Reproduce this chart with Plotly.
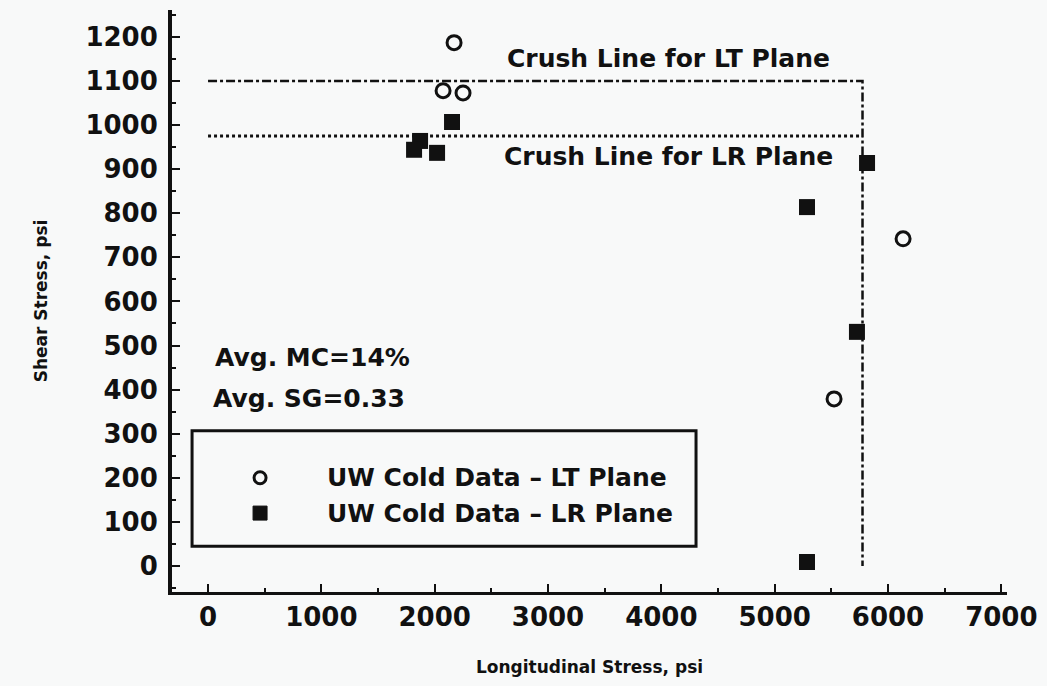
import plotly.graph_objects as go

# ---- data ----
lt_x = [2171, 2074, 2250, 6133, 5524]          # UW Cold Data - LT Plane
lt_y = [1187, 1078, 1073, 742, 379]
lr_x = [2153, 1871, 1818, 2021, 5815, 5285, 5726, 5285]   # UW Cold Data - LR Plane
lr_y = [1007, 964, 944, 937, 914, 814, 531, 9]

crush_lt_x = [0, 5775, 5775]
crush_lt_y = [1100, 1100, 0]
crush_lr_x = [0, 5775]
crush_lr_y = [975, 975]

x_ticks = [0, 1000, 2000, 3000, 4000, 5000, 6000, 7000]
y_ticks = list(range(0, 1300, 100))

FONT = "DejaVu Sans"
INK = "#111111"

fig = go.Figure()
fig.add_trace(go.Scatter(x=crush_lt_x, y=crush_lt_y, mode="lines",
                         line=dict(color=INK, width=2.5, dash="dashdot"),
                         showlegend=False, hoverinfo="skip"))
fig.add_trace(go.Scatter(x=crush_lr_x, y=crush_lr_y, mode="lines",
                         line=dict(color=INK, width=3, dash="dot"),
                         showlegend=False, hoverinfo="skip"))
fig.add_trace(go.Scatter(x=lt_x, y=lt_y, mode="markers", name="UW Cold Data – LT Plane",
                         marker=dict(symbol="circle-open", size=14, color=INK,
                                     line=dict(width=3, color=INK)),
                         showlegend=False))
fig.add_trace(go.Scatter(x=lr_x, y=lr_y, mode="markers", name="UW Cold Data – LR Plane",
                         marker=dict(symbol="square", size=16, color=INK),
                         showlegend=False))

txt = dict(family=FONT, size=25, color=INK, weight="bold")

annotations = [
    dict(x=4059, y=1152, text="Crush Line for LT Plane", showarrow=False,
         xanchor="center", yanchor="middle", font=txt),
    dict(x=4059, y=928, text="Crush Line for LR Plane", showarrow=False,
         xanchor="center", yanchor="middle", font=txt),
    dict(x=40, y=472, text="Avg. MC=14%", showarrow=False,
         xanchor="left", yanchor="middle", font=txt),
    dict(x=30, y=380, text="Avg. SG=0.33", showarrow=False,
         xanchor="left", yanchor="middle", font=txt),
    dict(x=1032, y=200, text="UW Cold Data – LT Plane", showarrow=False,
         xanchor="left", yanchor="middle", font=txt),
    dict(x=1032, y=120, text="UW Cold Data – LR Plane", showarrow=False,
         xanchor="left", yanchor="middle", font=txt),
]

shapes = [
    dict(type="rect", xref="x", yref="y", x0=-141, x1=4306, y0=45, y1=307,
         line=dict(color=INK, width=3), fillcolor="rgba(0,0,0,0)"),
    dict(type="circle", xref="x", yref="y", xsizemode="pixel", ysizemode="pixel",
         xanchor=459, yanchor=200, x0=-6, x1=6, y0=-6, y1=6,
         line=dict(color=INK, width=3)),
    dict(type="rect", xref="x", yref="y", xsizemode="pixel", ysizemode="pixel",
         xanchor=459, yanchor=120, x0=-7, x1=7, y0=-7, y1=7,
         line=dict(color=INK, width=1), fillcolor=INK),
]

fig.update_layout(
    width=1047, height=686,
    margin=dict(l=172, r=40, t=10, b=94),
    paper_bgcolor="#f8f9f9", plot_bgcolor="#f8f9f9",
    font=dict(family=FONT, color=INK),
    annotations=annotations, shapes=shapes,
    showlegend=False,
)
fig.update_xaxes(
    range=[-318, 7050], tickvals=x_ticks, ticktext=[str(v) for v in x_ticks],
    showline=True, linewidth=3, linecolor=INK, mirror=False,
    ticks="inside", ticklen=8, tickwidth=2, tickcolor=INK,
    minor=dict(dtick=500, tick0=0, ticks="inside", ticklen=4, tickwidth=2, tickcolor=INK),
    showgrid=False, zeroline=False,
    tickfont=dict(family=FONT, size=26, color=INK, weight="bold"),
    ticklabelstandoff=0,
    title=dict(text="Longitudinal Stress, psi", standoff=30,
               font=dict(family=FONT, size=17, color=INK, weight="bold")),
)
fig.update_yaxes(
    range=[-59, 1261], tickvals=y_ticks, ticktext=[str(v) for v in y_ticks],
    showline=True, linewidth=4, linecolor=INK, mirror=False,
    ticks="inside", ticklen=8, tickwidth=2, tickcolor=INK,
    minor=dict(dtick=50, tick0=0, ticks="inside", ticklen=4, tickwidth=2, tickcolor=INK),
    showgrid=False, zeroline=False,
    tickfont=dict(family=FONT, size=26, color=INK, weight="bold"),
    ticklabelstandoff=5,
    title=dict(text="Shear Stress, psi", standoff=34,
               font=dict(family=FONT, size=17, color=INK, weight="bold")),
)

fig.write_html("out.html", config={"displayModeBar": False})

# remove the default page margin so the figure fills the window exactly
with open("out.html", "r", encoding="utf-8") as f:
    html = f.read()
html = html.replace("<head>", "<head><style>html,body{margin:0;padding:0;background:#f8f9f9;}</style>", 1)
with open("out.html", "w", encoding="utf-8") as f:
    f.write(html)
